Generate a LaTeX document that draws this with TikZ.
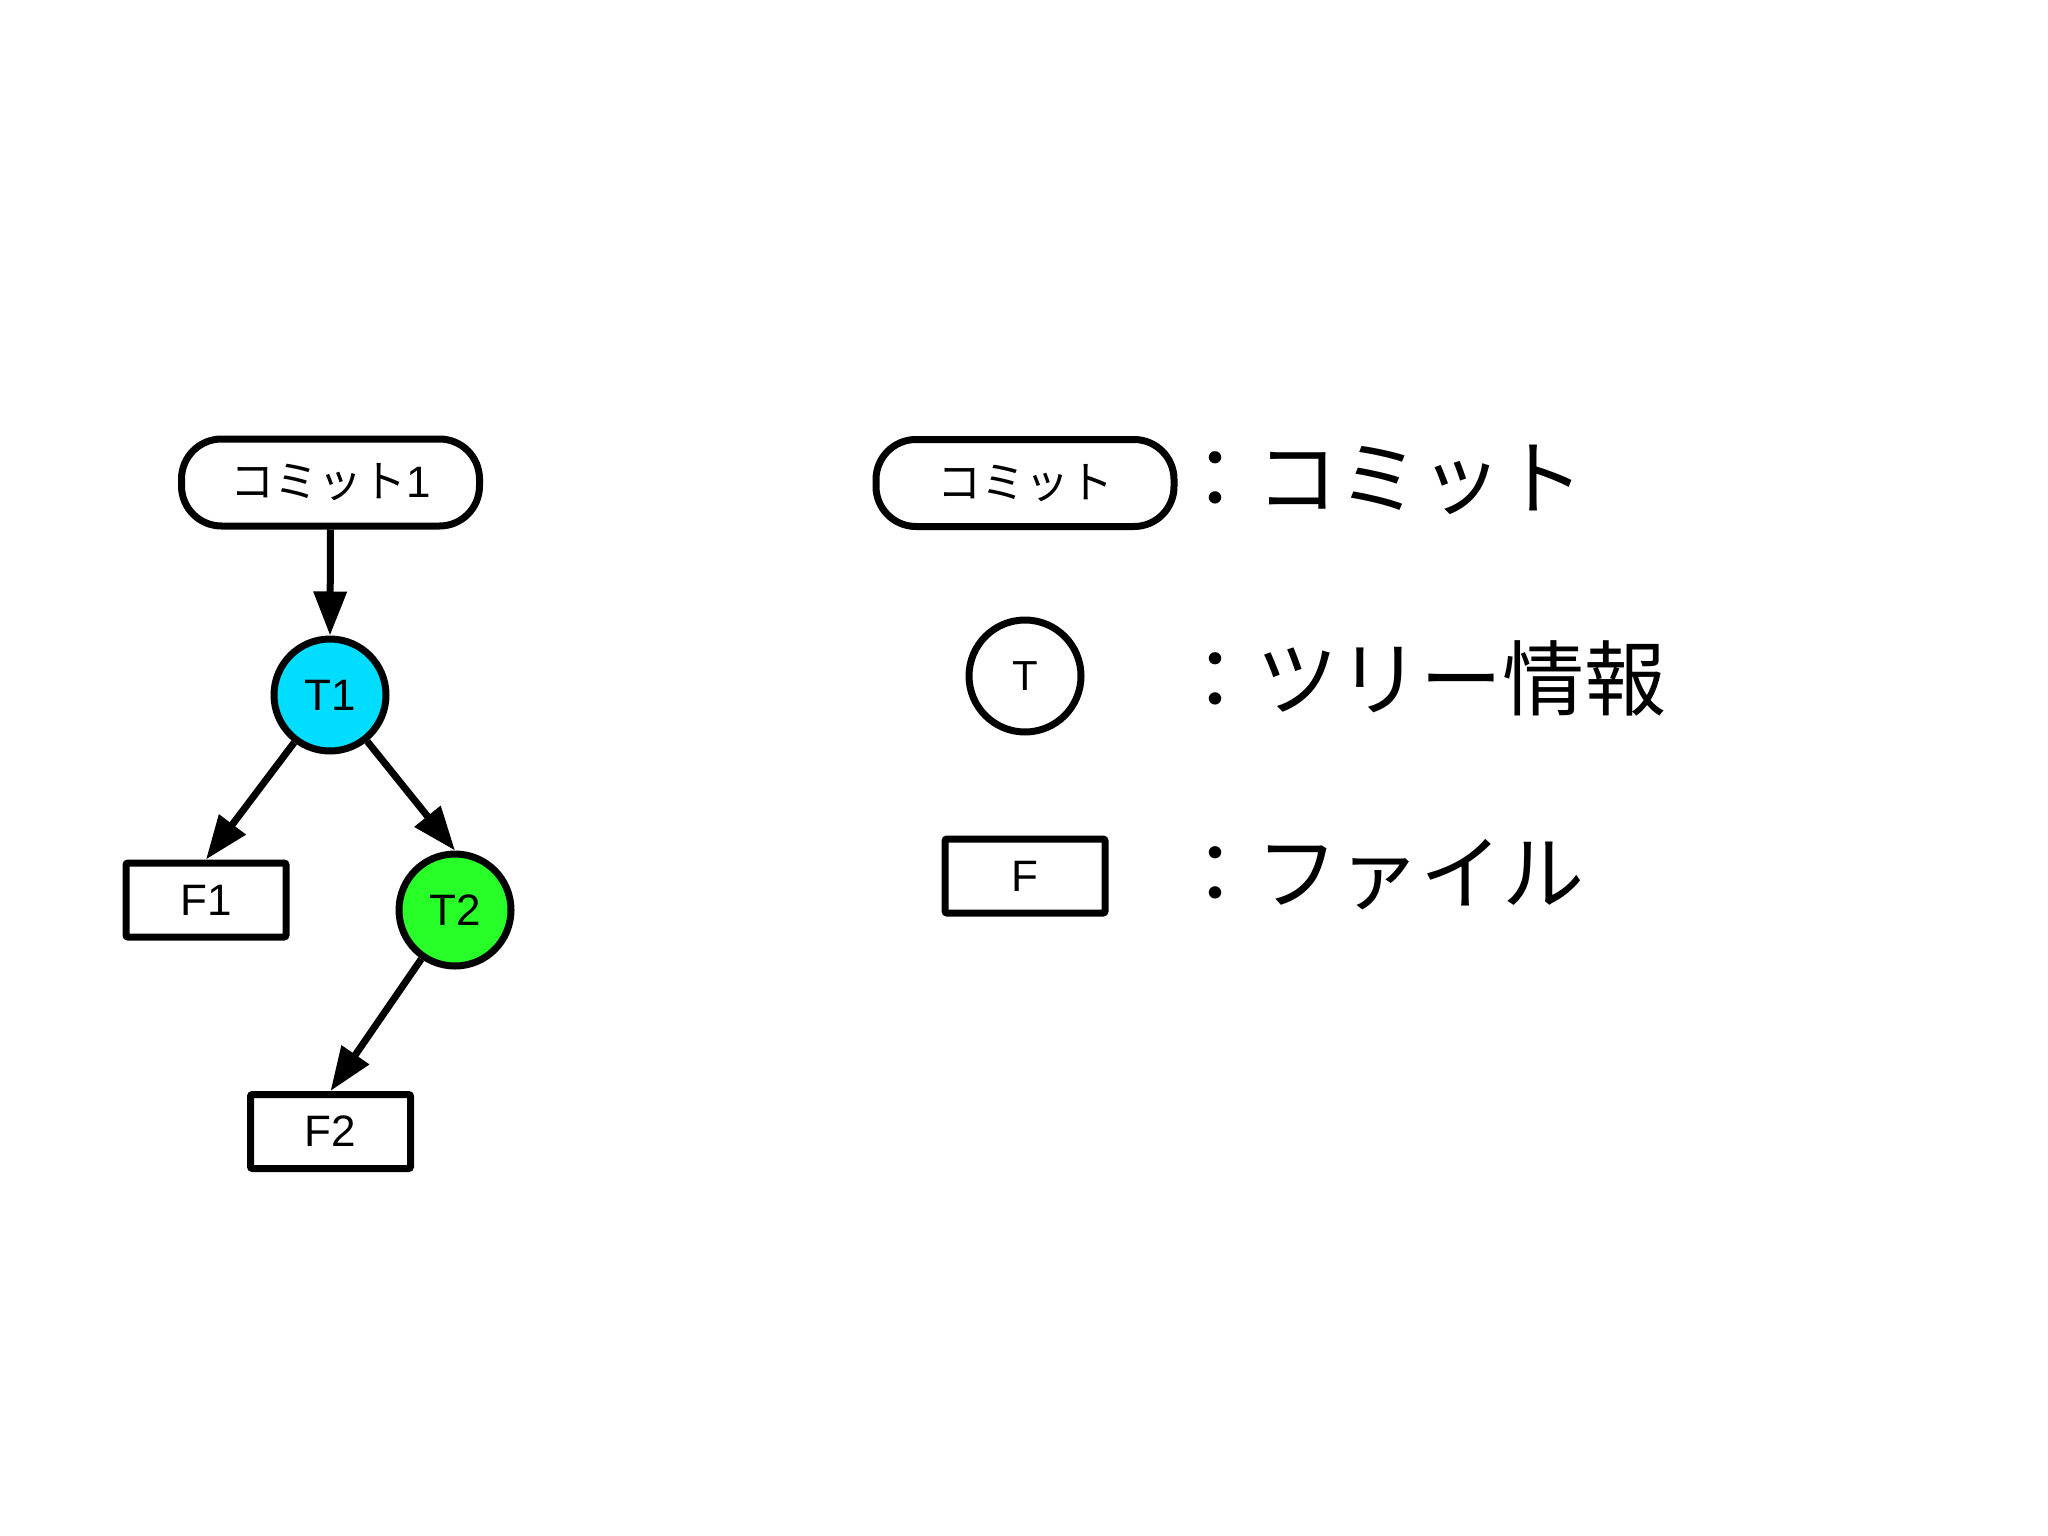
\documentclass[tikz,border=0pt]{standalone}
\usepackage{fontspec}
\setmainfont{Liberation Sans}
\newfontfamily\cjk{Noto Sans CJK JP}
\usetikzlibrary{arrows.meta}
\definecolor{treeblue}{RGB}{0,221,255}
\definecolor{treegreen}{RGB}{40,255,40}
\begin{document}
\begin{tikzpicture}[x=0.5pt,y=-0.5pt,
  base/.style={draw=black, line width=3.5pt, inner sep=0pt, font=\fontsize{22}{26}\selectfont},
  pill/.style={base, rectangle, rounded corners=20pt, minimum width=149pt, minimum height=43.5pt, fill=white},
  tree/.style={base, circle, minimum size=56pt},
  filebox/.style={base, rectangle, rounded corners=1pt, minimum width=80pt, minimum height=37pt, fill=white},
  link/.style={line width=3.5pt, -{Triangle[length=22pt,width=16pt]}},
  legendtext/.style={anchor=west, inner sep=0pt, font=\cjk\fontsize{41}{49}\selectfont}]
\path[use as bounding box, fill=white] (0,0) rectangle (2048,1535);

% tree
\node[pill] (c1) at (330.5,482.5) {{\cjk コミット}1};
\node[tree, fill=treeblue] (t1) at (330,695) {T1};
\node[filebox] (f1) at (206,900) {F1};
\node[tree, fill=treegreen] (t2) at (455,910) {T2};
\node[filebox] (f2) at (330.5,1131.5) {F2};

\draw[link] (c1.south) -- (t1.north);
\draw[link] (t1) -- (f1.north);
\draw[link] (t1) -- (t2.north);
\draw[link] (t2) -- (f2.north);

% legend
\node[pill] (lc) at (1025,483) {\cjk コミット};
\node[tree, fill=white, font=\fontsize{21}{25}\selectfont] (lt) at (1025,676) {T};
\node[filebox] (lf) at (1025,876) {F};

\node[legendtext] (lctext) at (1174,480) {：コミット};
\node[legendtext] (lttext) at (1174,678) {：ツリー情報};
\node[legendtext] (lftext) at (1174,875) {：ファイル};
\end{tikzpicture}
\end{document}
